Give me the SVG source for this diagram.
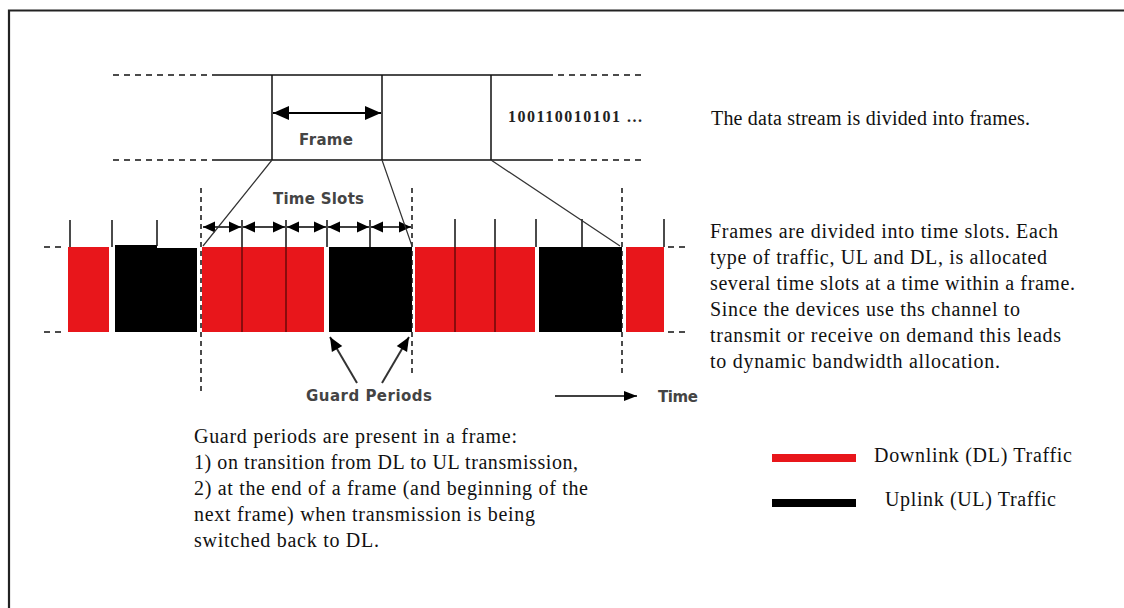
<svg xmlns="http://www.w3.org/2000/svg" width="1124" height="608" viewBox="0 0 1124 608">
<style>
.ln{stroke:#111;stroke-width:1.5;fill:none}
.thin{stroke:#333;stroke-width:1.2;fill:none}
.dash{stroke:#111;stroke-width:1.5;fill:none;stroke-dasharray:6 5}
.vdash{stroke:#111;stroke-width:1.5;fill:none;stroke-dasharray:5 4}
.dl{fill:#e8161b}
.ul{fill:#000}
.div{stroke:#6a0a0a;stroke-width:1.5}
.sans{font-family:"DejaVu Sans",Verdana,sans-serif;font-size:15px;font-weight:bold;fill:#444}
.serif{font-family:"Liberation Serif","Times New Roman",serif;font-size:20px;fill:#111}
</style>
<defs>
<marker id="hs" refX="12" refY="5.5" markerWidth="12" markerHeight="11" markerUnits="userSpaceOnUse" orient="auto-start-reverse" overflow="visible"><path d="M0,0 L12,5.5 L0,11 z" fill="#000"/></marker>
<marker id="hb" refX="16" refY="7" markerWidth="16" markerHeight="14" markerUnits="userSpaceOnUse" orient="auto-start-reverse" overflow="visible"><path d="M0,0 L16,7 L0,14 z" fill="#000"/></marker>
<marker id="hg" refX="14" refY="6" markerWidth="14" markerHeight="12" markerUnits="userSpaceOnUse" orient="auto" overflow="visible"><path d="M0,0 L14,6 L0,12 z" fill="#000"/></marker>
<marker id="ht" refX="13" refY="5" markerWidth="13" markerHeight="10" markerUnits="userSpaceOnUse" orient="auto" overflow="visible"><path d="M0,0 L13,5 L0,10 z" fill="#000"/></marker>
</defs>
<rect width="1124" height="608" fill="#fff"/>
<path d="M9,612 V10.5 H1128" stroke="#222" stroke-width="2.2" fill="none"/>

<g id="data-stream">
<path class="dash" d="M113,75 H212 M547,75 H643 M113,160 H212 M547,160 H643"/>
<path class="ln" d="M212,75 H547 M212,160 H547 M272,75 V160 M382,75 V160 M491,75 V160"/>
<line x1="273" y1="113" x2="381" y2="113" stroke="#000" stroke-width="2.2" marker-start="url(#hb)" marker-end="url(#hb)"/>
<text class="sans" x="299" y="145" textLength="54">Frame</text>
<text x="508" y="122" font-family="Liberation Serif,serif" font-weight="bold" font-size="16" fill="#222" textLength="134">100110010101 ...</text>
</g>

<g id="frame-slots">
<path class="dash" d="M44,247 H66 M44,332 H66 M668,247 H690 M668,332 H690"/>
<rect class="dl" x="68" y="247" width="41" height="85"/>
<path class="ul" d="M115,245 H157 V248 H197 V332 H115 z"/>
<rect class="dl" x="202" y="247" width="122" height="85"/>
<rect class="ul" x="329" y="247" width="83" height="85"/>
<rect class="dl" x="415" y="247" width="120" height="85"/>
<rect class="ul" x="539" y="247" width="83" height="85"/>
<rect class="dl" x="626" y="247" width="38" height="85"/>
<path class="div" d="M242,247 V332 M286,247 V332 M455,247 V332 M495,247 V332"/>
<path class="ln" d="M70,220 V247 M112,220 V247 M157,220 V246 M242,220 V247 M286,220 V247 M327,220 V247 M370,220 V247 M455,219 V247 M495,219 V247 M536,219 V247 M582,219 V247 M664,219 V247"/>
<path class="vdash" d="M201,188 V395 M412,188 V374 M622,188 V374"/>
</g>

<g id="time-slots">
<text class="sans" x="273" y="204" textLength="91">Time Slots</text>
<g stroke="#000" stroke-width="1.5">
<line x1="203" y1="227" x2="241" y2="227" marker-start="url(#hs)" marker-end="url(#hs)"/>
<line x1="243" y1="227" x2="285" y2="227" marker-start="url(#hs)" marker-end="url(#hs)"/>
<line x1="287" y1="227" x2="326" y2="227" marker-start="url(#hs)" marker-end="url(#hs)"/>
<line x1="328" y1="227" x2="369" y2="227" marker-start="url(#hs)" marker-end="url(#hs)"/>
<line x1="371" y1="227" x2="411" y2="227" marker-start="url(#hs)" marker-end="url(#hs)"/>
</g>
</g>

<g id="connectors">
<path class="thin" d="M272,160 L203,246 M382,160 L412,246 M491,160 L620,246"/>
<line x1="357" y1="383" x2="330" y2="337" stroke="#333" stroke-width="2" marker-end="url(#hg)"/>
<line x1="382" y1="383" x2="409" y2="337" stroke="#333" stroke-width="2" marker-end="url(#hg)"/>
<line x1="555" y1="396" x2="637" y2="396" stroke="#000" stroke-width="1.5" marker-end="url(#ht)"/>
</g>

<g id="labels">
<text class="sans" x="306" y="401" textLength="126">Guard Periods</text>
<text class="sans" x="658" y="402" textLength="40">Time</text>
</g>

<g id="desc-stream">
<text class="serif" x="711" y="125" textLength="319">The data stream is divided into frames.</text>
</g>

<g id="desc-slots" class="serif">
<text x="710" y="238" textLength="348">Frames are divided into time slots. Each</text>
<text x="710" y="264" textLength="337">type of traffic, UL and DL, is allocated</text>
<text x="710" y="290" textLength="365">several time slots at a time within a frame.</text>
<text x="710" y="316" textLength="310">Since the devices use ths channel to</text>
<text x="710" y="342" textLength="351">transmit or receive on demand this leads</text>
<text x="710" y="368" textLength="290">to dynamic bandwidth allocation.</text>
</g>

<g id="desc-guard" class="serif">
<text x="194" y="443" textLength="323">Guard periods are present in a frame:</text>
<text x="194" y="469" textLength="384">1) on transition from DL to UL transmission,</text>
<text x="194" y="495" textLength="394">2) at the end of a frame (and beginning of the</text>
<text x="194" y="521" textLength="341">next frame) when transmission is being</text>
<text x="194" y="547" textLength="185">switched back to DL.</text>
</g>

<g id="legend">
<rect class="dl" x="772" y="454" width="84" height="8"/>
<rect class="ul" x="772" y="499" width="84" height="8"/>
<text class="serif" x="874" y="462" textLength="198">Downlink (DL) Traffic</text>
<text class="serif" x="885" y="506" textLength="171">Uplink (UL) Traffic</text>
</g>
</svg>
